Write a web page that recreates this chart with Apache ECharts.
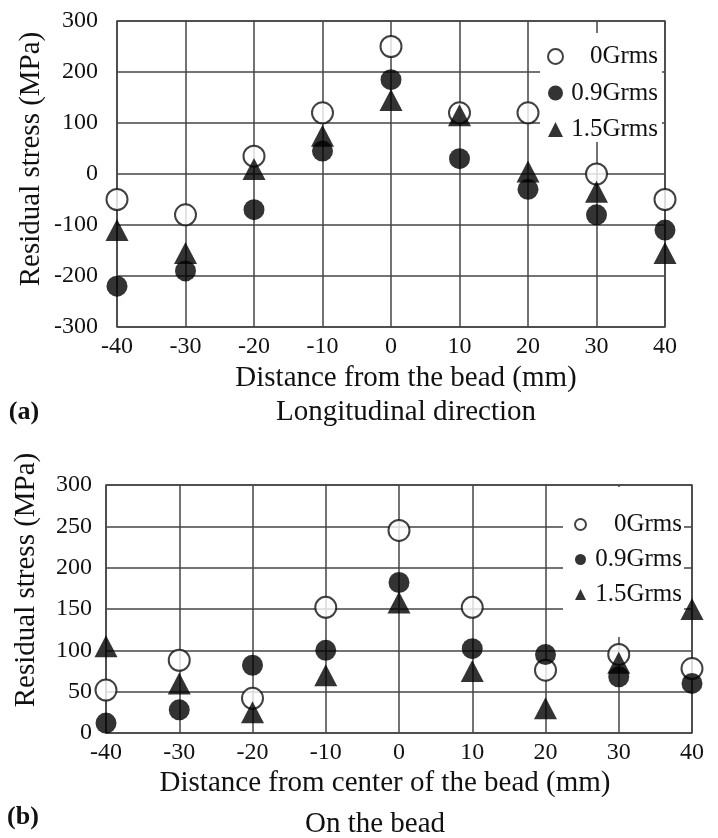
<!DOCTYPE html>
<html>
<head>
<meta charset="utf-8">
<script src="https://cdn.jsdelivr.net/npm/echarts@6/dist/echarts.min.js"></script>
<style>
html,body{margin:0;padding:0;background:#fff;}
#c{width:718px;height:838px;}
</style>
</head>
<body>
<div id="c"></div>
<script>
// ---- data ----
const xValues = [-40, -30, -20, -10, 0, 10, 20, 30, 40];
const seriesNames = ['0Grms', '0.9Grms', '1.5Grms'];
// (a) Longitudinal direction
const longG0  = [-50, -80, 35, 120, 250, 120, 120, 0, -50];
const longG09 = [-220, -190, -70, 45, 185, 30, -30, -80, -110];
const longG15 = [-110, -155, 10, 75, 145, 115, 5, -35, -155];
// (b) On the bead
const beadG0  = [52, 88, 42, 152, 245, 152, 76, 95, 78];
const beadG09 = [12, 28, 82, 100, 182, 102, 95, 68, 60];
const beadG15 = [105, 60, 25, 70, 158, 75, 30, 85, 150];
// tick settings
const xTicks = { min: -40, max: 40, interval: 10 };
const longTicks = { min: -300, max: 300, interval: 100 };
const beadTicks = { min: 0, max: 300, interval: 50 };

const FONT = "'Liberation Serif','Times New Roman',serif";
const INK = '#111';
const GRID = '#444';

function pairs(ys) { return xValues.map((x, i) => [x, ys[i]]); }

function xAxisOf(gi) {
  return {
    type: 'value', gridIndex: gi, min: xTicks.min, max: xTicks.max, interval: xTicks.interval,
    axisLine: { show: false, onZero: false }, axisTick: { show: false },
    splitLine: { show: true, lineStyle: { color: GRID, width: 1.5 } },
    axisLabel: { color: INK, fontFamily: FONT, fontSize: 24, margin: 8 }
  };
}
function yAxisOf(gi, t, margin) {
  return {
    type: 'value', gridIndex: gi, min: t.min, max: t.max, interval: t.interval,
    axisLine: { show: false, onZero: false }, axisTick: { show: false },
    splitLine: { show: true, lineStyle: { color: GRID, width: 1.5 } },
    axisLabel: { color: INK, fontFamily: FONT, fontSize: 24, margin: margin }
  };
}
const styles = [
  { symbol: 'circle', size: 21, itemStyle: { color: '#fff', borderColor: '#111', borderWidth: 2 } },
  { symbol: 'circle', size: 21, itemStyle: { color: '#000' } },
  { symbol: 'triangle', size: [23, 22], itemStyle: { color: '#000' } }
];
function scatter(gi, name, ys, k) {
  return {
    type: 'scatter', name: name, xAxisIndex: gi, yAxisIndex: gi, data: pairs(ys),
    symbol: styles[k].symbol, symbolSize: styles[k].size, itemStyle: styles[k].itemStyle,
    emphasis: { disabled: true }, z: 3 + k
  };
}
function legendOf(left, top, pad, iw, gap, textW) {
  return {
    orient: 'vertical', left: left, top: top, padding: pad, itemGap: gap,
    itemWidth: iw, itemHeight: iw, backgroundColor: '#fff', z: 1, selectedMode: false,
    data: seriesNames,
    formatter: n => '{t|' + n + '}',
    textStyle: { rich: { t: { width: textW, align: 'right', fontSize: 25, lineHeight: 22, fontFamily: FONT, color: INK } } }
  };
}
function txt(x, y, s, size, opts) {
  return Object.assign({
    type: 'text', x: x, y: y, silent: true,
    style: { text: s, fontSize: size, fontFamily: FONT, fill: INK, align: 'center', verticalAlign: 'middle' }
  }, opts || {});
}
function boldTxt(x, y, s) {
  return { type: 'text', x: x, y: y, silent: true,
    style: { text: s, fontSize: 26, fontWeight: 'bold', fontFamily: FONT, fill: INK, align: 'center', verticalAlign: 'middle' } };
}

const option = {
  backgroundColor: '#fff',
  animation: false,
  grid: [
    { left: 117, top: 21, width: 548, height: 306, show: true, borderColor: GRID, borderWidth: 1.5, backgroundColor: 'transparent' },
    { left: 106, top: 485, width: 586, height: 248, show: true, borderColor: GRID, borderWidth: 1.5, backgroundColor: 'transparent' }
  ],
  xAxis: [xAxisOf(0), xAxisOf(1)],
  yAxis: [yAxisOf(0, longTicks, 19), yAxisOf(1, beadTicks, 14)],
  legend: [
    legendOf(540, 33, [11, 4, 0, 7], 15, 11.5, 90),
    legendOf(563, 487, [25, 2, 30, 11], 11, 10, 91)
  ],
  series: [
    scatter(0, seriesNames[0], longG0, 0),
    scatter(0, seriesNames[1], longG09, 1),
    scatter(0, seriesNames[2], longG15, 2),
    scatter(1, seriesNames[0], beadG0, 0),
    scatter(1, seriesNames[1], beadG09, 1),
    scatter(1, seriesNames[2], beadG15, 2)
  ],
  graphic: [
    txt(31, 159, 'Residual stress (MPa)', 29, { rotation: Math.PI / 2 }),
    txt(406, 378, 'Distance from the bead (mm)', 29),
    boldTxt(24, 412, '(a)'),
    txt(406, 412, 'Longitudinal direction', 29),
    txt(26, 580, 'Residual stress (MPa)', 29, { rotation: Math.PI / 2 }),
    txt(385, 783, 'Distance from center of the bead (mm)', 29),
    boldTxt(23, 817, '(b)'),
    txt(375, 824, 'On the bead', 29)
  ]
};
const chart = echarts.init(document.getElementById('c'), null, { renderer: 'canvas' });
chart.setOption(option);
</script>
</body>
</html>
